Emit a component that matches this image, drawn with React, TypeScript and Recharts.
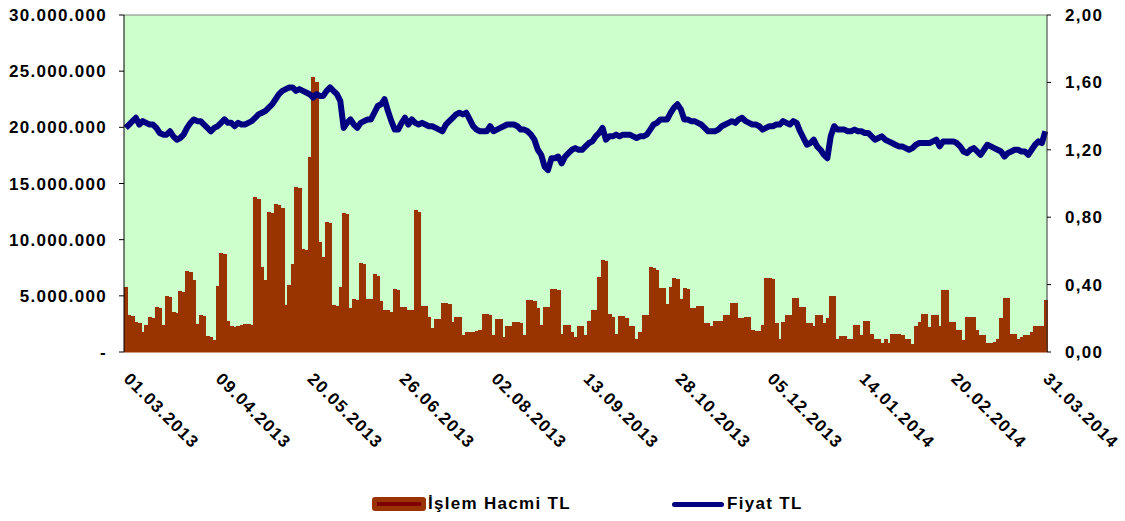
import React from 'react';
import {
  ComposedChart,
  Bar,
  Line,
  XAxis,
  YAxis,
  CartesianGrid,
  ReferenceLine,
  Legend,
} from 'recharts';

// daily trading volume, millions of TL (01.03.2013 - 31.03.2014)
const volumeM = [
  5.8, 3.3, 3.2, 2.7, 2.6, 1.8, 2.4, 3.1, 3.0, 4.0,
  3.9, 2.4, 5.0, 4.9, 3.6, 3.5, 5.4, 5.3, 7.2, 7.1,
  6.4, 2.5, 3.3, 3.2, 1.4, 1.3, 1.1, 5.9, 8.8, 8.7,
  2.8, 2.3, 2.2, 2.3, 2.4, 2.5, 2.5, 2.4, 13.8, 13.6,
  7.6, 6.4, 12.5, 12.4, 13.2, 13.1, 12.8, 4.2, 6.0, 7.8,
  14.7, 14.6, 9.2, 9.1, 17.4, 24.5, 24.0, 9.8, 8.5, 11.6,
  11.5, 4.2, 4.1, 5.8, 12.4, 12.3, 3.9, 4.7, 4.6, 7.9,
  7.8, 4.7, 4.7, 6.9, 6.8, 4.5, 3.7, 3.7, 3.6, 5.6,
  5.5, 4.0, 4.0, 3.7, 3.7, 12.6, 12.5, 4.1, 4.1, 3.1,
  2.1, 2.9, 2.9, 4.4, 4.4, 4.3, 2.7, 3.1, 3.1, 1.5,
  1.8, 1.8, 1.8, 1.9, 2.0, 3.4, 3.4, 3.3, 1.5, 2.9,
  2.9, 1.3, 2.3, 2.3, 2.7, 2.7, 2.6, 1.5, 4.6, 4.6,
  4.5, 3.9, 2.4, 4.0, 4.0, 5.6, 5.6, 5.5, 1.6, 2.4,
  2.4, 1.8, 1.3, 2.3, 2.3, 1.5, 2.8, 3.7, 3.7, 6.7,
  8.2, 8.1, 3.4, 3.1, 1.6, 3.2, 3.2, 3.0, 2.3, 2.3,
  1.2, 1.8, 3.3, 3.3, 7.6, 7.5, 7.3, 5.7, 5.7, 4.3,
  5.8, 6.6, 6.5, 4.7, 5.7, 5.6, 3.9, 3.9, 4.1, 4.1,
  2.6, 2.6, 2.3, 2.8, 2.8, 2.8, 3.3, 3.3, 4.4, 4.4,
  3.0, 3.0, 3.1, 3.1, 2.0, 1.9, 1.9, 2.4, 6.6, 6.6,
  6.5, 2.6, 1.2, 2.7, 3.3, 3.3, 4.8, 4.8, 4.0, 4.0,
  2.6, 2.6, 2.3, 3.3, 3.3, 2.6, 3.0, 5.0, 5.0, 1.2,
  1.4, 1.4, 1.2, 1.2, 2.4, 2.4, 1.5, 2.8, 2.8, 1.6,
  1.2, 1.2, 0.8, 1.2, 0.8, 1.6, 1.6, 1.6, 1.5, 1.2,
  1.2, 0.7, 2.3, 2.7, 3.4, 3.4, 2.2, 3.3, 3.3, 2.3,
  5.5, 5.5, 2.7, 2.7, 2.0, 2.0, 1.1, 3.1, 3.1, 3.1,
  2.0, 1.5, 1.5, 0.8, 0.8, 0.9, 1.2, 3.0, 4.8, 4.8,
  1.6, 1.6, 1.2, 1.3, 1.5, 1.5, 1.8, 2.3, 2.3, 2.3,
  4.6,
];

// closing price, TL
const price = [
  1.33, 1.35, 1.37, 1.39, 1.35, 1.37, 1.36, 1.35, 1.35, 1.33,
  1.30, 1.29, 1.29, 1.31, 1.28, 1.26, 1.27, 1.29, 1.33, 1.36,
  1.38, 1.37, 1.37, 1.35, 1.33, 1.31, 1.33, 1.34, 1.36, 1.38,
  1.36, 1.36, 1.34, 1.36, 1.35, 1.35, 1.36, 1.37, 1.39, 1.41,
  1.42, 1.43, 1.45, 1.47, 1.50, 1.53, 1.55, 1.56, 1.57, 1.57,
  1.55, 1.56, 1.55, 1.54, 1.53, 1.51, 1.53, 1.52, 1.52, 1.55,
  1.57, 1.55, 1.53, 1.49, 1.33, 1.36, 1.38, 1.35, 1.33, 1.36,
  1.37, 1.38, 1.38, 1.42, 1.46, 1.47, 1.50, 1.43, 1.37, 1.32,
  1.32, 1.36, 1.39, 1.35, 1.38, 1.36, 1.35, 1.36, 1.35, 1.34,
  1.34, 1.33, 1.32, 1.31, 1.35, 1.37, 1.39, 1.41, 1.42, 1.41,
  1.42, 1.38, 1.34, 1.32, 1.31, 1.31, 1.31, 1.34, 1.31, 1.32,
  1.33, 1.34, 1.35, 1.35, 1.35, 1.34, 1.32, 1.32, 1.31, 1.29,
  1.26, 1.20, 1.17, 1.10, 1.08, 1.15, 1.15, 1.16, 1.12, 1.16,
  1.18, 1.20, 1.21, 1.20, 1.20, 1.22, 1.24, 1.25, 1.28, 1.30,
  1.33, 1.26, 1.28, 1.28, 1.29, 1.28, 1.29, 1.29, 1.29, 1.28,
  1.27, 1.28, 1.28, 1.29, 1.32, 1.35, 1.36, 1.38, 1.38, 1.38,
  1.42, 1.45, 1.47, 1.44, 1.38, 1.38, 1.37, 1.37, 1.36, 1.35,
  1.33, 1.31, 1.31, 1.31, 1.32, 1.34, 1.35, 1.36, 1.37, 1.36,
  1.38, 1.39, 1.37, 1.36, 1.35, 1.35, 1.34, 1.32, 1.33, 1.34,
  1.34, 1.35, 1.35, 1.37, 1.36, 1.35, 1.37, 1.36, 1.31, 1.27,
  1.23, 1.24, 1.26, 1.22, 1.20, 1.17, 1.15, 1.28, 1.34, 1.32,
  1.32, 1.32, 1.31, 1.31, 1.32, 1.31, 1.31, 1.30, 1.30, 1.28,
  1.26, 1.27, 1.28, 1.26, 1.25, 1.24, 1.23, 1.22, 1.22, 1.21,
  1.20, 1.21, 1.23, 1.24, 1.24, 1.24, 1.24, 1.25, 1.26, 1.22,
  1.25, 1.25, 1.25, 1.25, 1.24, 1.22, 1.19, 1.18, 1.20, 1.21,
  1.19, 1.17, 1.20, 1.23, 1.22, 1.21, 1.20, 1.19, 1.16, 1.18,
  1.19, 1.20, 1.20, 1.19, 1.19, 1.17, 1.20, 1.23, 1.25, 1.24,
  1.31,
];

const tickDays = [0, 27, 54, 81, 108, 135, 162, 189, 216, 243, 270];
const tickLabels = [
  '01.03.2013', '09.04.2013', '20.05.2013', '26.06.2013', '02.08.2013', '13.09.2013',
  '28.10.2013', '05.12.2013', '14.01.2014', '20.02.2014', '31.03.2014',
];

const volumeTicks = [0, 5, 10, 15, 20, 25, 30];
const priceTicks = [0, 0.4, 0.8, 1.2, 1.6, 2];

const data = volumeM.map((v, i) => ({ day: i, volume: v, price: price[i] }));

const FONT = '"Liberation Sans", Arial, sans-serif';
const tickStyle = { fill: '#000', fontSize: 17, fontWeight: 'bold', fontFamily: FONT, letterSpacing: 1.3 };

const fmtVolume = (v: number) =>
  v === 0 ? '-' : String(Math.round(v * 1000000)).replace(/\B(?=(\d{3})+(?!\d))/g, '.');
const fmtPrice = (v: number) => v.toFixed(2).replace('.', ',');

const DateTick = (props: any) => {
  const { x, y, payload } = props;
  const label = tickLabels[tickDays.indexOf(payload.value)];
  const tx = x - 3;
  const ty = y + 28;
  return (
    <text
      x={tx}
      y={ty}
      transform={`rotate(45, ${tx}, ${ty})`}
      textAnchor="start"
      fill="#000"
      fontSize={17}
      fontWeight="bold"
      fontFamily={FONT}
      letterSpacing={1.3}
    >
      {label}
    </text>
  );
};

// bars are floored to whole pixels by recharts; widen each one a little so no gaps show
const VolumeBar = (props: any) => {
  const { x, y, width, height } = props;
  if (!height || height <= 0) return null;
  return <rect x={x} y={y} width={width + 1} height={height} fill="#993300" shapeRendering="crispEdges" />;
};

const renderLegend = () => (
  <div style={{ position: 'relative', width: 1125, height: 40, fontFamily: FONT, fontWeight: 'bold', fontSize: 17, letterSpacing: 1.3, color: '#000' }}>
    <div style={{ position: 'absolute', left: 372, top: 16, width: 54, height: 14, background: '#993300', borderRadius: 3 }}>
      <div style={{ position: 'absolute', left: 5, right: 5, top: 5, height: 4, background: '#800000' }} />
    </div>
    <div style={{ position: 'absolute', left: 428, top: 13, lineHeight: '20px', whiteSpace: 'nowrap' }}>İşlem Hacmi TL</div>
    <div style={{ position: 'absolute', left: 672, top: 21, width: 52, height: 5, background: '#000080', borderRadius: 3 }} />
    <div style={{ position: 'absolute', left: 727, top: 13, lineHeight: '20px', whiteSpace: 'nowrap' }}>Fiyat TL</div>
  </div>
);

export default function App() {
  return (
    <div style={{ position: 'absolute', left: 0, top: 0, width: 1125, height: 521, background: '#fff' }}>
      <ComposedChart
        width={1125}
        height={521}
        data={data}
        margin={{ top: 15, right: 0, bottom: 0, left: 0 }}
        barCategoryGap={0}
        barGap={0}
      >
        <CartesianGrid horizontal={false} vertical={false} fill="#CCFFCC" />
        <XAxis
          dataKey="day"
          ticks={tickDays}
          interval={0}
          tickLine={false}
          tickSize={0}
          tickMargin={0}
          height={129}
          axisLine={{ stroke: '#993300' }}
          tick={<DateTick />}
        />
        <YAxis
          yAxisId="left"
          width={124}
          domain={[0, 30]}
          ticks={volumeTicks}
          interval={0}
          tickFormatter={fmtVolume}
          tickSize={5}
          tickMargin={12}
          axisLine={{ stroke: '#000' }}
          tickLine={{ stroke: '#000' }}
          tick={tickStyle}
        />
        <YAxis
          yAxisId="right"
          orientation="right"
          width={78}
          domain={[0, 2]}
          ticks={priceTicks}
          interval={0}
          tickFormatter={fmtPrice}
          tickSize={4}
          tickMargin={14}
          axisLine={{ stroke: '#333' }}
          tickLine={{ stroke: '#000' }}
          tick={tickStyle}
        />
        <ReferenceLine yAxisId="left" y={30} stroke="#808080" />
        <Bar
          yAxisId="left"
          dataKey="volume"
          fill="#993300"
          shape={<VolumeBar />}
          isAnimationActive={false}
        />
        <Line
          yAxisId="right"
          dataKey="price"
          type="linear"
          stroke="#000080"
          strokeWidth={6}
          strokeLinejoin="round"
          dot={false}
          activeDot={false}
          isAnimationActive={false}
        />
        <Legend verticalAlign="bottom" content={renderLegend} />
      </ComposedChart>
    </div>
  );
}
